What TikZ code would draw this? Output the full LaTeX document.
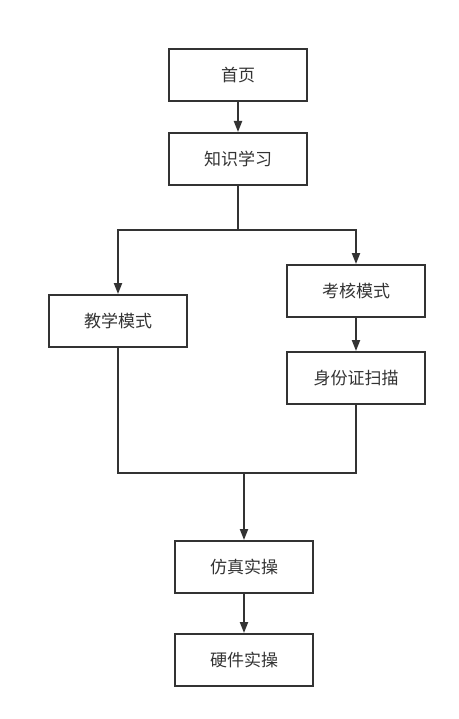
\documentclass[tikz,border=0pt]{standalone}
\usepackage{fontspec}
\newfontfamily\cjk{Noto Sans CJK SC}
\usepackage{tikz}
\usetikzlibrary{arrows.meta,positioning}
\usetikzlibrary{calc}
\definecolor{linegray}{HTML}{333333}
\tikzset{
	%Define standard arrow tip
	>={Triangle[length=11pt,width=8pt]},
	%Define style for boxes
	punkt/.style={
		rectangle,
		draw=linegray, line width=2pt,
		text=linegray,
		font=\cjk\fontsize{17pt}{20pt}\selectfont,
		minimum width=138pt,
		minimum height=52pt,
		inner sep=0pt,
		text centered},
	% Define line styles
	lin/.style={
		draw=linegray,
		line width=2pt},
	pil/.style={
		lin,
		->}
}
\begin{document}
\begin{tikzpicture}
	\useasboundingbox (0,0) rectangle (458pt,-719pt);
	% node Home
	\node[punkt] at (238pt,-75pt) (home) {首页};
	% node Knowledge
	\node[punkt, below=30pt of home] (study) {知识学习};
	% node Teaching / Exam
	\node[punkt, below left=108pt and -20pt of study] (teach) {教学模式};
	\node[punkt, below right=78pt and -22pt of study] (exam) {考核模式};
	\node[punkt, below=33pt of exam] (idcard) {身份证扫描};
	% node Practice
	\node[punkt, below=354pt of study, xshift=6pt] (sim) {仿真实操};
	\node[punkt, below=39pt of sim] (hard) {硬件实操};
	\coordinate (split) at ($(study.south) - (0pt,44pt)$);
	\coordinate (merge) at ($(teach.south) - (0pt,125pt)$);
	\draw[pil]   (home) -- (study);
	\draw[lin]   (study.south) -- (split);
	\draw[pil]   (split) -| (teach.north);
	\draw[pil]   (split) -| (exam.north);
	\draw[pil]   (exam) -- (idcard);
	\draw[lin]   (teach.south) -- (merge) -| (idcard.south);
	\draw[pil]   (sim.north |- merge) -- (sim.north);
	\draw[pil]   (sim) -- (hard);
\end{tikzpicture}
\end{document}
